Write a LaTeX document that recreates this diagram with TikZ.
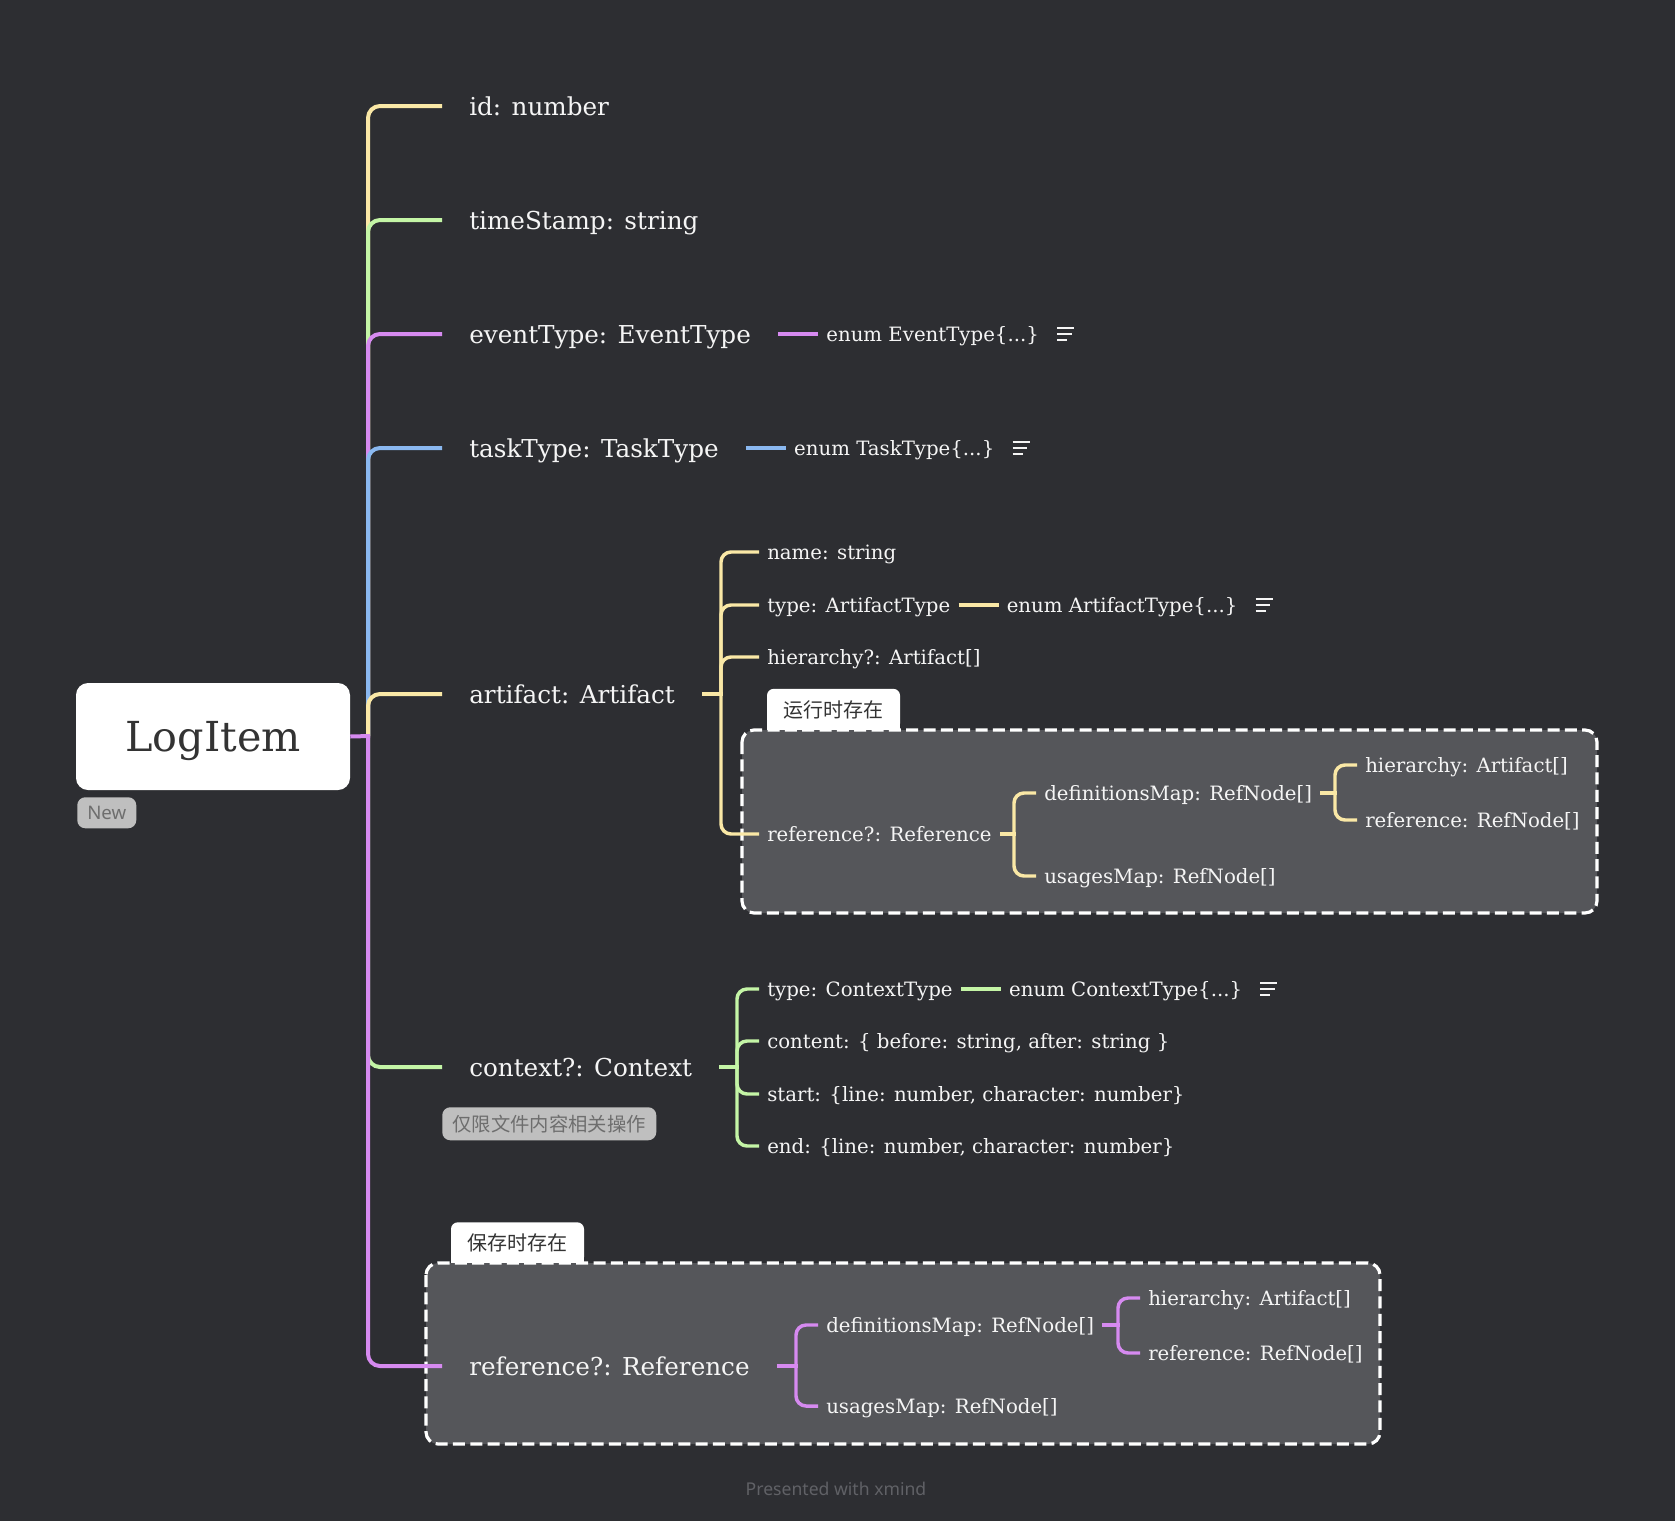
\documentclass[tikz,border=0pt]{standalone}
\usepackage{fontspec}
\setmainfont{DejaVu Serif}
\setsansfont{Noto Sans}
\newfontfamily\cjk{Noto Sans CJK SC}
\usetikzlibrary{positioning}

\definecolor{bgdark}{RGB}{45,46,50}
\definecolor{bndfill}{RGB}{85,86,90}
\definecolor{txtlight}{RGB}{245,245,245}
\definecolor{txtdark}{RGB}{51,51,51}
\definecolor{brYellow}{RGB}{250,232,166}
\definecolor{brGreen}{RGB}{196,245,166}
\definecolor{brPurple}{RGB}{214,138,240}
\definecolor{brBlue}{RGB}{138,184,240}
\definecolor{tagfill}{RGB}{191,191,191}
\definecolor{tagtext}{RGB}{110,110,110}
\definecolor{footgray}{RGB}{96,97,102}

\newcommand\notelines[1]{%
  \draw[noteline] ([xshift=7.5pt,yshift=4.5pt]#1.east) -- ++(12.75pt,0pt)
    ([xshift=7.5pt]#1.east) -- ++(11pt,0pt)
    ([xshift=7.5pt,yshift=-4.5pt]#1.east) -- ++(7.5pt,0pt);}

\begin{document}
\begin{tikzpicture}[x=0.75pt, y=0.75pt,
  topic/.style={anchor=west, text=txtlight, font=\fontsize{18.5}{22}\selectfont, inner xsep=20.25pt, inner ysep=0pt, text height=13.5pt, text depth=0pt},
  subtopic/.style={anchor=west, text=txtlight, font=\fontsize{14.8}{18}\selectfont, inner xsep=6pt, inner ysep=0pt, text height=10.8pt, text depth=0pt},
  rootbox/.style={fill=white, rounded corners=9pt, minimum width=205.5pt, minimum height=80.25pt, font=\fontsize{31}{36}\selectfont, text=txtdark, text height=22.6pt, text depth=0pt},
  tagbox/.style={fill=tagfill, rounded corners=6pt, text=tagtext, inner sep=0pt, anchor=north west},
  tabbox/.style={fill=white, rounded corners=5pt, text=txtdark, inner sep=0pt, minimum width=99.75pt, minimum height=31pt, font=\cjk\fontsize{15}{18}\selectfont},
  boundary/.style={fill=bndfill, draw=white, line width=2.4pt, dash pattern=on 9pt off 4pt, rounded corners=9pt},
  mainline/.style={line width=3pt, rounded corners=9pt},
  subline/.style={line width=2.6pt, rounded corners=7.5pt},
  noteline/.style={draw=txtlight, line width=1.5pt}
]
  \fill[bgdark] (0,0) rectangle (1675,-1521);
  \useasboundingbox (0,0) rectangle (1675,-1521);

  % boundaries
  \node[tabbox] (runTab) at (833.5,-709.5) {运行时存在};
  \fill[white] (runTab.south west) rectangle ([yshift=6pt]runTab.south east);
  \draw[boundary] (742,-730) rectangle (1597,-913);
  \node[tabbox] (saveTab) at (517.5,-1243) {保存时存在};
  \fill[white] (saveTab.south west) rectangle ([yshift=6pt]saveTab.south east);
  \draw[boundary] (426,-1263) rectangle (1380,-1444);

  \node[rootbox] (root) at (213,-736.5) {LogItem};
  \node[tagbox, font=\sffamily\fontsize{14}{16}\selectfont, minimum width=44.25pt, minimum height=23.25pt] (newTag) at (77,-797) {New};

  \node[topic] (id) at (442,-106) {id: number};
  \node[topic] (ts) at (442,-220) {timeStamp: string};
  \node[topic] (evt) at (442,-334) {eventType: EventType};
  \node[topic] (task) at (442,-448) {taskType: TaskType};
  \node[topic] (art) at (442,-694) {artifact: Artifact};
  \node[topic] (ctx) at (442,-1067) {context?: Context};
  \node[topic] (refs) at (442,-1366) {reference?: Reference};
  \node[tagbox, font=\cjk\fontsize{14.5}{17}\selectfont, minimum width=160.5pt, minimum height=24.75pt] (ctxTag) at (442,-1107) {仅限文件内容相关操作};

  \coordinate (hub) at (368,-736);
  \foreach \n/\c in {id/brYellow, ts/brGreen, evt/brPurple, task/brBlue, art/brYellow, ctx/brGreen, refs/brPurple}
    \draw[mainline, \c] (hub) |- (\n.west);
  \draw[mainline, brPurple] (root.east) -- ([xshift=1.5pt]hub);

  % enums
  \node[subtopic, right=30pt of evt] (evtEnum) {enum EventType\{...\}};
  \draw[mainline, brPurple] (evt) -- (evtEnum);
  \notelines{evtEnum}
  \node[subtopic, right=30pt of task] (taskEnum) {enum TaskType\{...\}};
  \draw[mainline, brBlue] (task) -- (taskEnum);
  \notelines{taskEnum}

  % artifact
  \coordinate (artHub) at (721,-694);
  \node[subtopic] (aName) at (759,-552) {name: string};
  \node[subtopic] (aType) at (759,-605) {type: ArtifactType};
  \node[subtopic] (aHier) at (759,-657) {hierarchy?: Artifact[]};
  \node[subtopic] (aRef) at (759,-834) {reference?: Reference};
  \draw[subline, brYellow] (art.east) -- ([xshift=1.3pt]artHub);
  \foreach \n in {aName, aType, aHier, aRef}
    \draw[subline, brYellow] (artHub) |- (\n.west);
  \node[subtopic, right=30pt of aType] (aTypeEnum) {enum ArtifactType\{...\}};
  \draw[subline, brYellow] (aType) -- (aTypeEnum);
  \notelines{aTypeEnum}

  \coordinate (aRefHub) at (1014,-834);
  \node[subtopic] (aDef) at (1036,-793) {definitionsMap: RefNode[]};
  \node[subtopic] (aUse) at (1036,-876) {usagesMap: RefNode[]};
  \draw[subline, brYellow] (aRef.east) -- ([xshift=1.3pt]aRefHub);
  \foreach \n in {aDef, aUse}
    \draw[subline, brYellow] (aRefHub) |- (\n.west);
  \coordinate (aDefHub) at (1335,-793);
  \node[subtopic] (aDefHier) at (1357,-765) {hierarchy: Artifact[]};
  \node[subtopic] (aDefRef) at (1357,-820) {reference: RefNode[]};
  \draw[subline, brYellow] (aDef.east) -- ([xshift=1.3pt]aDefHub);
  \foreach \n in {aDefHier, aDefRef}
    \draw[subline, brYellow] (aDefHub) |- (\n.west);

  % context
  \coordinate (ctxHub) at (737,-1067);
  \node[subtopic] (cType) at (759,-989) {type: ContextType};
  \node[subtopic] (cContent) at (759,-1041) {content: \{ before: string, after: string \}};
  \node[subtopic] (cStart) at (759,-1094) {start: \{line: number, character: number\}};
  \node[subtopic] (cEnd) at (759,-1146) {end: \{line: number, character: number\}};
  \draw[subline, brGreen] (ctx.east) -- ([xshift=1.3pt]ctxHub);
  \foreach \n in {cType, cContent, cStart, cEnd}
    \draw[subline, brGreen] (ctxHub) |- (\n.west);
  \node[subtopic, right=30pt of cType] (cTypeEnum) {enum ContextType\{...\}};
  \draw[subline, brGreen] (cType) -- (cTypeEnum);
  \notelines{cTypeEnum}

  % reference
  \coordinate (rHub) at (796,-1366);
  \node[subtopic] (rDef) at (818,-1325) {definitionsMap: RefNode[]};
  \node[subtopic] (rUse) at (818,-1406) {usagesMap: RefNode[]};
  \draw[subline, brPurple] (refs.east) -- ([xshift=1.3pt]rHub);
  \foreach \n in {rDef, rUse}
    \draw[subline, brPurple] (rHub) |- (\n.west);
  \coordinate (rDefHub) at (1118,-1325);
  \node[subtopic] (rDefHier) at (1140,-1298) {hierarchy: Artifact[]};
  \node[subtopic] (rDefRef) at (1140,-1353) {reference: RefNode[]};
  \draw[subline, brPurple] (rDef.east) -- ([xshift=1.3pt]rDefHub);
  \foreach \n in {rDefHier, rDefRef}
    \draw[subline, brPurple] (rDefHub) |- (\n.west);

  \node[font=\sffamily\fontsize{13.2}{16}\selectfont, text=footgray] (credit) at (836,-1489) {Presented with \textbf{xmind}};
\end{tikzpicture}
\end{document}
